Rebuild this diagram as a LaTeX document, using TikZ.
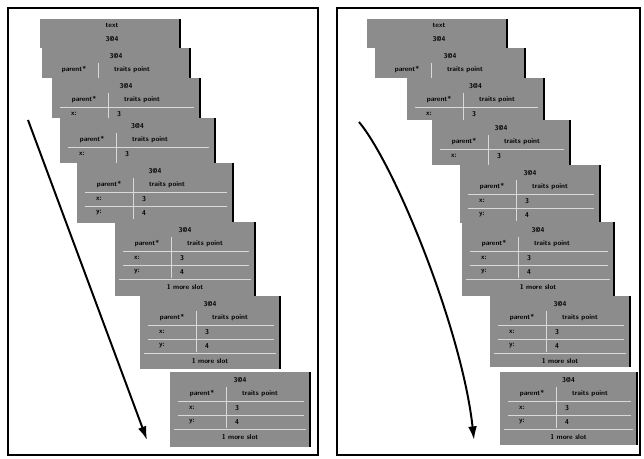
\documentclass[tikz,border=0pt]{standalone}
\usepackage{tikz}
\usetikzlibrary{arrows.meta}

\tikzstyle{panel}=[draw=black,line width=1.2pt]
\tikzstyle{frame}=[fill=black!45]
\tikzstyle{edge}=[line width=1.3pt]
\tikzstyle{lbl}=[font=\sffamily\bfseries\tiny,inner sep=0pt]
\tikzstyle{sep}=[draw=white!85!black,line width=0.5pt]
\tikzstyle{motion}=[line width=1.4pt,-{Latex[length=3.4mm,width=2.2mm]}]

\begin{document}
\begin{tikzpicture}[x=0.025cm,y=-0.025cm]
        \useasboundingbox (0,0) rectangle (644,459);
        % panels
        \draw[panel] (8,8) rectangle (318,455);
        \draw[panel] (337,8) rectangle (640,455);

        % first frame of each panel
        \foreach \p/\x in {l/40,r/367} {
            \fill[frame] (\x,19) rectangle ++(140,29);
            \node[lbl] (\p1-title) at (\x+72,25) {text};
            \node[lbl] (\p1-name) at (\x+72,39) {3@4};
            \draw[edge] (\x+140,19) -- ++(0,29);
        }

        % growing frames (last field: rows shown)
        \foreach \n/\x/\y/\w/\h/\r in {l2/42/48/148/30/2, l3/52/78/148/40/3,
                l4/60/118/155/45/3, l5/77/163/156/60/4, l6/115/222/140/74/5,
                l7/140/296/140/73/5, l8/170/372/140/75/5,
                r2/375/48/150/30/2, r3/407/78/137/42/3, r4/432/120/138/45/3,
                r5/460/165/140/58/4, r6/462/222/152/74/5, r7/490/296/140/71/5,
                r8/500/372/137/73/5} {
            \fill[frame] (\x,\y) rectangle ++(\w,\h);
            \begin{scope}
                \clip (\x,\y) rectangle ++(\w,\h);
                \node[lbl] (\n-title) at (\x+\w/2,\y+8) {3@4};
                \node[lbl] (\n-parent) at (\x+32,\y+22) {parent*};
                \node[lbl] (\n-traits) at (\x+90,\y+22) {traits point};
                \ifnum\r>2
                    \node[lbl] (\n-x) at (\x+22,\y+36) {x:};
                    \node[lbl] (\n-xval) at (\x+67,\y+36) {3};
                    \draw[sep] (\x+8,\y+29) -- ++(\w-14,0);
                \fi
                \ifnum\r>3
                    \node[lbl] (\n-y) at (\x+22,\y+50) {y:};
                    \node[lbl] (\n-yval) at (\x+67,\y+50) {4};
                    \draw[sep] (\x+8,\y+43) -- ++(\w-14,0);
                \fi
                \ifnum\r>4
                    \node[lbl] (\n-more) at (\x+\w/2,\y+65) {1 more slot};
                    \draw[sep] (\x+4,\y+57) -- ++(\w-8,0);
                \fi
                \draw[sep] (\x+56,\y+15) -- ++(0,41);
            \end{scope}
            \draw[edge] (\x+\w,\y) -- ++(0,\h);
        }

        % motion paths
        \coordinate (la) at (28,120);
        \coordinate (lb) at (147,440);
        \coordinate (ra) at (359,122);
        \coordinate (rb) at (474,440);
        \draw[motion] (la) -- (lb);
        \draw[motion] (ra) .. controls (395,165) and (462,330) .. (rb);
    \end{tikzpicture}
\end{document}
